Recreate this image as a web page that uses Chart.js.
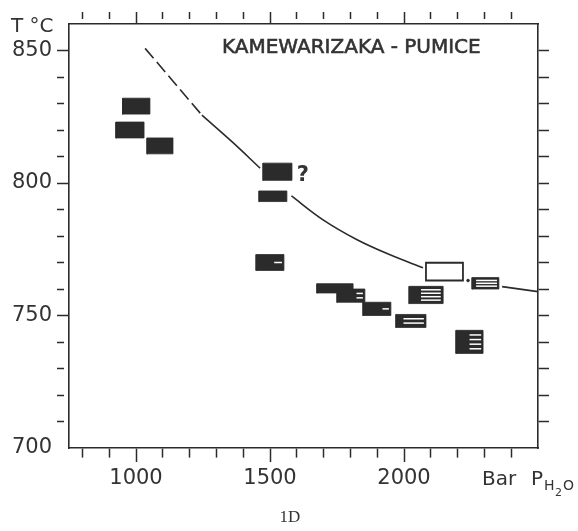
<!DOCTYPE html>
<html><head><meta charset="utf-8">
<script src="https://cdn.jsdelivr.net/npm/chart.js@4.4.0/dist/chart.umd.min.js"></script>
<style>html,body{margin:0;padding:0;background:#fff;}canvas{display:block;}</style>
</head><body>
<canvas id="c" width="578" height="531"></canvas>
<script>
// ---- axes ----
const xRange = [750, 2500];
const yRange = [700, 860];
const xTickValues = [800, 900, 1000, 1100, 1200, 1300, 1400, 1500, 1600, 1700, 1800, 1900, 2000, 2100, 2200, 2300, 2400];
const xLabelValues = [1000, 1500, 2000];
const yTickValues = [700, 710, 720, 730, 740, 750, 760, 770, 780, 790, 800, 810, 820, 830, 840, 850];
const yLabelValues = [700, 750, 800, 850];

// ---- sample boxes (P range in bar, T range in °C) ----
const boxPmin = [950, 925, 1041, 1474, 1459, 1448, 1675, 1750, 1847, 1970, 2019, 2082, 2254, 2194];
const boxPmax = [1052, 1030, 1138, 1582, 1563, 1552, 1810, 1854, 1951, 2082, 2146, 2220, 2354, 2295];
const boxTmin = [826, 817, 811, 801, 793, 767, 758.5, 755, 750, 745.5, 754.5, 763.2, 760, 735.7];
const boxTmax = [832, 823, 817, 807.5, 797, 773, 762, 760, 755, 750.4, 761, 769.9, 764.3, 744.4];
const boxKind = ['solid','solid','solid','solid','solid','hatch','solid','hatch','hatch','hatch','hatch','open','hatch','hatch'];
const hatchLines = [0, 0, 0, 0, 0, 1, 0, 2, 1, 2, 4, 0, 3, 4];
const hatchFrac = [0, 0, 0, 0, 0, 0.35, 0, 0.3, 0.3, 0.75, 0.65, 0, 0.85, 0.5];

// ---- curve ----
const dashedP = [1034, 1246];
const dashedT = [850.8, 825.6];
const curveP = [1246, 1360, 1463, null, 1580, 1698, 1825, 1948, 2071, null, 2366, 2500];
const curveT = [825.6, 815.4, 805.6, null, 795.1, 786.1, 778.6, 772.9, 768.0, null, 760.9, 759.0];
const dotP = [2239];
const dotT = [763.2];

const INK = '#2b2b2b';
const TEXT = '#333333';

const datasets = [];
let seg = [];
const curveSegs = [];
curveP.forEach((p, i) => {
  if (p === null) { if (seg.length) curveSegs.push(seg); seg = []; }
  else seg.push({x: p, y: curveT[i]});
});
if (seg.length) curveSegs.push(seg);
curveSegs.forEach(s => datasets.push({
  data: s, showLine: true, borderColor: INK, borderWidth: 1.6, pointRadius: 0,
  tension: 0.35, fill: false, order: 3
}));
datasets.push({
  data: dashedP.map((p, i) => ({x: p, y: dashedT[i]})), showLine: true, borderColor: INK,
  borderWidth: 1.6, borderDash: [13, 5], pointRadius: 0, tension: 0, fill: false, order: 3
});
datasets.push({
  data: dotP.map((p, i) => ({x: p, y: dotT[i]})), showLine: false, pointRadius: 1.3,
  backgroundColor: INK, borderColor: INK, order: 3
});
boxPmin.forEach((p0, i) => {
  const p1 = boxPmax[i], t0 = boxTmin[i], t1 = boxTmax[i];
  const open = boxKind[i] === 'open';
  datasets.push({
    data: [{x: p0, y: t0}, {x: p1, y: t0}, {x: p1, y: t1}, {x: p0, y: t1}, {x: p0, y: t0}],
    showLine: true, tension: 0, pointRadius: 0, fill: 'shape',
    backgroundColor: open ? '#ffffff' : INK, borderColor: INK,
    borderJoinStyle: 'miter', borderCapStyle: 'square',
    borderWidth: open ? 1.8 : 0.8, order: 2
  });
  for (let k = 1; k <= hatchLines[i]; k++) {
    const t = t0 + (t1 - t0) * k / (hatchLines[i] + 1);
    datasets.push({
      data: [{x: p1 - hatchFrac[i] * (p1 - p0), y: t}, {x: p1 - 0.07 * (p1 - p0), y: t}],
      showLine: true, pointRadius: 0, borderColor: '#ffffff', borderWidth: 1.5, fill: false, order: 1
    });
  }
});

const FONT = {family: '"DejaVu Sans"', size: 21};
const tickSet = vals => scale => { scale.ticks = vals.map(v => ({value: v})); };

const textPlugin = {
  id: 'texts',
  afterDraw(chart) {
    const ctx = chart.ctx, xs = chart.scales.x, ys = chart.scales.y;
    ctx.save();
    ctx.fillStyle = TEXT;
    ctx.strokeStyle = TEXT;
    ctx.textAlign = 'left';
    ctx.textBaseline = 'alphabetic';
    ctx.font = '20px "DejaVu Sans"';
    ctx.lineWidth = 0.6;
    ctx.fillText('KAMEWARIZAKA - PUMICE', 222, 53);
    ctx.strokeText('KAMEWARIZAKA - PUMICE', 222, 53);
    ctx.fillText('T °C', 11, 32);
    ctx.fillText('Bar', 482, 485);
    ctx.fillText('P', 531, 485);
    ctx.font = '14px "DejaVu Sans"';
    ctx.fillText('H', 544, 490);
    ctx.font = '11px "DejaVu Sans"';
    ctx.fillText('2', 555, 496);
    ctx.font = '14px "DejaVu Sans"';
    ctx.fillText('O', 563, 490);
    ctx.font = 'bold 21px "DejaVu Sans"';
    ctx.fillText('?', xs.getPixelForValue(1600), ys.getPixelForValue(800.7));
    ctx.font = '17px "Liberation Serif"';
    ctx.textAlign = 'center';
    ctx.fillText('1D', 290, 522);
    ctx.restore();
  }
};

new Chart(document.getElementById('c'), {
  type: 'scatter',
  data: {datasets},
  plugins: [textPlugin],
  options: {
    responsive: false, animation: false, devicePixelRatio: 1,
    layout: {padding: 0},
    plugins: {legend: {display: false}, tooltip: {enabled: false}, title: {display: false}},
    scales: {
      x: {
        type: 'linear', position: 'bottom', min: xRange[0], max: xRange[1],
        afterBuildTicks: tickSet(xTickValues),
        afterFit: s => { s.height = 83; },
        ticks: {autoSkip: false, maxRotation: 0, padding: 4, color: TEXT, font: FONT,
          callback: v => xLabelValues.includes(v) ? String(v) : ''},
        grid: {drawOnChartArea: false, tickLength: 14, tickWidth: 1.5, tickColor: INK,
          tickBorderDash: c => xLabelValues.includes(c.tick && c.tick.value) ? [] : [9, 40]},
        border: {color: INK, width: 1.6}
      },
      xTop: {
        type: 'linear', position: 'top', min: xRange[0], max: xRange[1],
        afterBuildTicks: tickSet(xTickValues),
        afterFit: s => { s.height = 24; },
        ticks: {autoSkip: false, maxRotation: 0, padding: 0, callback: () => ''},
        grid: {drawOnChartArea: false, tickLength: 12, tickWidth: 1.5, tickColor: INK,
          tickBorderDash: c => xLabelValues.includes(c.tick && c.tick.value) ? [] : [7, 40]},
        border: {color: INK, width: 1.6}
      },
      y: {
        type: 'linear', position: 'left', min: yRange[0], max: yRange[1],
        afterBuildTicks: tickSet(yTickValues),
        afterFit: s => { s.width = 69; },
        ticks: {autoSkip: false, padding: 5, color: TEXT, font: FONT,
          callback: v => yLabelValues.includes(v) ? String(v) : ''},
        grid: {drawOnChartArea: false, tickLength: 12, tickWidth: 1.5,
          tickColor: c => (c.tick && c.tick.value === yRange[0]) ? 'rgba(0,0,0,0)' : INK,
          tickBorderDash: c => yLabelValues.includes(c.tick && c.tick.value) ? [] : [7, 40]},
        border: {color: INK, width: 1.6}
      },
      yRight: {
        type: 'linear', position: 'right', min: yRange[0], max: yRange[1],
        afterBuildTicks: tickSet(yTickValues.filter(v => v !== yRange[0])),
        afterFit: s => { s.width = 40; },
        ticks: {autoSkip: false, padding: 0, callback: () => ''},
        grid: {drawOnChartArea: false, tickLength: 11, tickWidth: 1.5, tickColor: INK},
        border: {color: INK, width: 1.6}
      }
    }
  }
});
</script>
</body></html>
